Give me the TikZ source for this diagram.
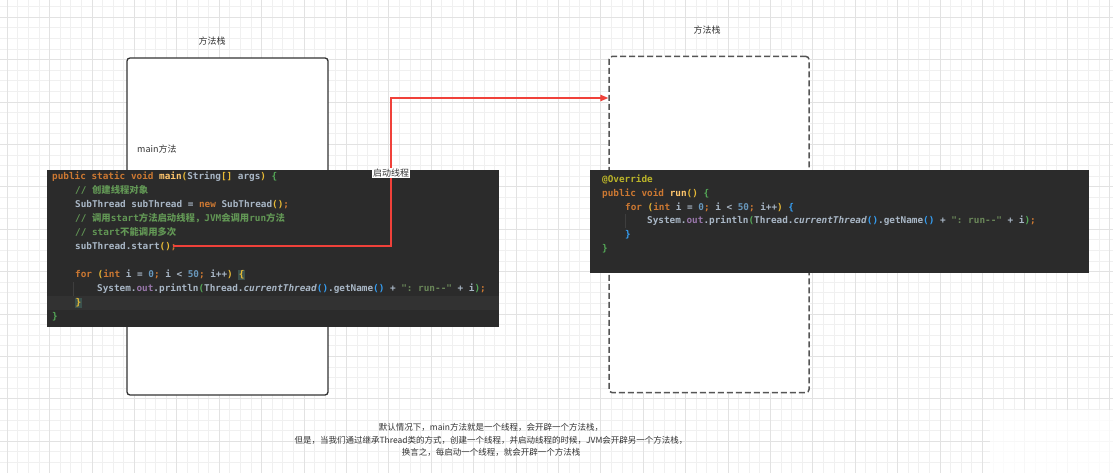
\documentclass[tikz,border=0pt]{standalone}
\usepackage{fontspec}
\setmonofont{DejaVu Sans Mono}
\newfontfamily\cjk{Noto Sans CJK SC}
\usetikzlibrary{arrows.meta}
\definecolor{gridminor}{HTML}{F0F0F0}
\definecolor{gridmajor}{HTML}{E2E2E2}
\definecolor{codebg}{HTML}{2B2B2B}
\definecolor{codehl}{HTML}{323232}
\definecolor{guide}{HTML}{3E3E3E}
\definecolor{kw}{HTML}{CC7832}
\definecolor{fn}{HTML}{FFC66D}
\definecolor{tx}{HTML}{A9B7C6}
\definecolor{cm}{HTML}{629755}
\definecolor{nu}{HTML}{6897BB}
\definecolor{st}{HTML}{6A8759}
\definecolor{fd}{HTML}{9876AA}
\definecolor{an}{HTML}{BBB529}
\definecolor{bgold}{HTML}{E8BA36}
\definecolor{bgreen}{HTML}{54A857}
\definecolor{bblue}{HTML}{359FF4}
\definecolor{bmatch}{HTML}{3B514D}
\definecolor{arrowred}{HTML}{F0413A}
\definecolor{labeltext}{HTML}{333333}
\definecolor{boxline}{HTML}{333333}
\definecolor{dashline}{HTML}{555555}
\newcommand\zh[1]{{\cjk #1}}
\newcommand\Ckw[1]{\textcolor{kw}{#1}}
\newcommand\Cfn[1]{\textcolor{fn}{#1}}
\newcommand\Ctx[1]{\textcolor{tx}{#1}}
\newcommand\Ccm[1]{\textcolor{cm}{#1}}
\newcommand\Cnu[1]{\textcolor{nu}{#1}}
\newcommand\Cst[1]{\textcolor{st}{#1}}
\newcommand\Cfd[1]{\textcolor{fd}{#1}}
\newcommand\Can[1]{\textcolor{an}{#1}}
\newcommand\Cbg[1]{\textcolor{bgold}{#1}}
\newcommand\Cbr[1]{\textcolor{bgreen}{#1}}
\newcommand\Cbb[1]{\textcolor{bblue}{#1}}
\newcommand\Cmatch[1]{{\setlength\fboxsep{0.5pt}\colorbox{bmatch}{#1}}}
\tikzset{
  codeline/.style={anchor=base west, inner sep=0pt, font=\fontsize{9.35}{11}\ttfamily\bfseries, text=tx},
  cjklabel/.style={font=\cjk\fontsize{9}{11}\selectfont, text=labeltext, inner sep=0pt},
  stackbox/.style={draw=boxline, line width=1.3pt, rounded corners=3pt, fill=white},
  newstack/.style={draw=dashline, line width=1.5pt, dash pattern=on 6pt off 3pt, rounded corners=3pt, fill=white},
  codeblock/.style={fill=codebg, draw=none},
  redarrow/.style={draw=arrowred, line width=1.3pt, -{Triangle[length=8pt,width=6.5pt]}},
}
\begin{document}
\begin{tikzpicture}[x=1pt,y=-1pt]
\useasboundingbox (0,0) rectangle (1113,473);
\fill[white] (0,0) rectangle (1113,473);
% grid
\foreach \i in {0,...,104} {
  \draw[gridminor, line width=0.8pt] ({7.2+10.6*\i},0) -- ({7.2+10.6*\i},473);
}
\foreach \i in {0,...,44} {
  \draw[gridminor, line width=0.8pt] (0,{6.6+10.6*\i}) -- (1113,{6.6+10.6*\i});
}
\foreach \i in {0,...,26} {
  \draw[gridmajor, line width=0.9pt] ({7.2+42.4*\i},0) -- ({7.2+42.4*\i},473);
}
\foreach \i in {0,...,11} {
  \draw[gridmajor, line width=0.9pt] (0,{17.2+42.4*\i}) -- (1113,{17.2+42.4*\i});
}

% method stacks
\draw[stackbox] (127,58) rectangle (328,395);
\node[newstack, minimum width=200pt, minimum height=336pt, inner sep=0pt] (rbox) at (709,224.5) {};
\node[cjklabel] (lbltitle) at (212,41) {方法栈};
\node[cjklabel] (rbltitle) at (707,30) {方法栈};
\node[cjklabel, anchor=west] (mainlbl) at (137,149) {main方法};

% left code block
\fill[codeblock] (47,170) rectangle (499,327);
\fill[codehl] (47,296) rectangle (499,310);
\draw[guide, line width=0.8pt] (73,282) -- (73,296);
\node[codeline] (l1) at (52,179.5) {\Ckw{public static void} \Cfn{main}\Cbg{(}String\Cbg{[]} args\Cbg{)} \Cbr{\{}};
\node[codeline] (l2) at (75,193.5) {\Ccm{// \zh{创建线程对象}}};
\node[codeline] (l3) at (75,207.5) {SubThread subThread = \Ckw{new} SubThread\Cbg{()}\Ckw{;}};
\node[codeline] (l4) at (75,221.5) {\Ccm{// \zh{调用}start\zh{方法启动线程，}JVM\zh{会调用}run\zh{方法}}};
\node[codeline] (l5) at (75,235.5) {\Ccm{// start\zh{不能调用多次}}};
\node[codeline] (l6) at (75,249.5) {subThread.start\Cbg{()}\Ckw{;}};
\node[codeline] (l8) at (75,277.5) {\Ckw{for} \Cbg{(}\Ckw{int} i = \Cnu{0}\Ckw{;} i < \Cnu{50}\Ckw{;} i++\Cbg{)} \Cmatch{\Cbg{\{}}};
\node[codeline] (l9) at (97,291.5) {System.\Cfd{out}.println\Cbr{(}Thread.\textit{currentThread}\Cbb{()}.getName\Cbb{()} + \Cst{": run--"} + i\Cbr{)}\Ckw{;}};
\node[codeline] (l10) at (75,305.5) {\Cmatch{\Cbg{\}}}};
\node[codeline] (l11) at (52,319.5) {\Cbr{\}}};

% right code block
\fill[codeblock] (590,170) rectangle (1089,273);
\draw[guide, line width=0.8pt] (625,214) -- (625,228);
\node[codeline] (r1) at (602,182.5) {\Can{@Override}};
\node[codeline] (r2) at (602,196.3) {\Ckw{public void} \Cfn{run}\Cbg{()} \Cbr{\{}};
\node[codeline] (r3) at (625,210.1) {\Ckw{for} \Cbg{(}\Ckw{int} i = \Cnu{0}\Ckw{;} i < \Cnu{50}\Ckw{;} i++\Cbg{)} \Cbb{\{}};
\node[codeline] (r4) at (647,223.9) {System.\Cfd{out}.println\Cbr{(}Thread.\textit{currentThread}\Cbb{()}.getName\Cbb{()} + \Cst{": run--"} + i\Cbr{)}\Ckw{;}};
\node[codeline] (r5) at (625,237.7) {\Cbb{\}}};
\node[codeline] (r6) at (602,251.5) {\Cbr{\}}};

% connector: start thread
\coordinate (src) at (173,246);
\coordinate (bend) at (391,173);
\coordinate (tgt) at (rbox.west |- 0,98);
\draw[redarrow] (src) -| (bend) |- (tgt);
\node[cjklabel, fill=white, inner sep=1pt] (startlbl) at (bend) {启动线程};

% bottom explanation
\node[font=\cjk\fontsize{8.5}{12.5}\selectfont, text=labeltext, align=center, inner sep=0pt] (note) at (491,440)
  {默认情况下，main方法就是一个线程，会开辟一个方法栈，\\
   但是，当我们通过继承Thread类的方式，创建一个线程，并启动线程的时候，JVM会开辟另一个方法栈，\\
   换言之，每启动一个线程，就会开辟一个方法栈};

% faded overlay bottom right
\fill[white, opacity=0.75] (990,410) rectangle (1113,473);
\end{tikzpicture}
\end{document}
